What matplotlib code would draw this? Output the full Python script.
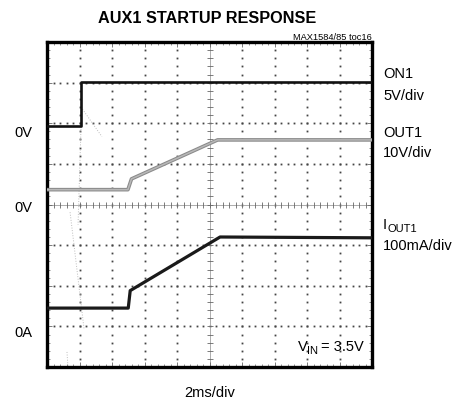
import numpy as np
import matplotlib
matplotlib.use('Agg')
from matplotlib import pyplot as plt

# scope settings: 2ms/div, 10 x 8 divisions
t_span_ms = 20.0
n_ydiv = 8

# ON1, 5V/div, ground reference at division 5.94
on1_t = [0.0, 2.07, 2.07, 20.0]
on1_v = [0.0, 0.0, 5.35, 5.35]
on1_zero, on1_scale = 5.94, 5.0

# OUT1, 10V/div, ground reference at the center line
out1_t = [0.0, 4.98, 5.2, 10.5, 20.0]
out1_v = [3.65, 3.65, 6.3, 15.9, 15.9]
out1_zero, out1_scale = 4.0, 10.0

# IOUT1, 100mA/div
iout1_t = [0.0, 5.0, 5.12, 10.65, 20.0]
iout1_ma = [51, 51, 94, 226, 224]
iout1_zero, iout1_scale = 0.94, 100.0

# faint persistence traces (ms, div)
ghost_t = [[2.09, 3.38], [2.09, 1.91], [1.42, 2.28], [1.23, 1.29]]
ghost_y = [[6.40, 5.67], [5.86, 3.50], [3.81, 0.94], [0.37, 0.0]]

plt.rcParams['font.family'] = ['Liberation Sans', 'DejaVu Sans']

W, H = 453, 402
fig = plt.figure(figsize=(W / 100, H / 100), dpi=100)
ax = fig.add_axes([47 / W, (H - 368) / H, 325 / W, 325 / H])
ax.set_xlim(0, t_span_ms)
ax.set_ylim(0, n_ydiv)


def px(x, y):
    return x / W, 1 - y / H


# dotted graticule
xs = np.arange(0, t_span_ms + 0.01, 0.4)
ys = np.arange(0, n_ydiv + 0.01, 0.2)
for j in range(1, n_ydiv):
    if j != 4:
        ax.plot(xs, np.full_like(xs, j), ls='none', marker='s', ms=1.3, mew=0,
                color='#444444', zorder=1)
for i in range(2, 20, 2):
    if i != 10:
        ax.plot(np.full_like(ys, i), ys, ls='none', marker='s', ms=1.3, mew=0,
                color='#444444', zorder=1)

# center axes with small ticks
ax.axhline(4, color='#a0a0a0', lw=0.6, zorder=1)
ax.axvline(10, color='#a0a0a0', lw=0.6, zorder=1)
ax.plot(xs, np.full_like(xs, 4), ls='none', marker='|', ms=4, mew=0.6, color='#666666', zorder=1)
ax.plot(np.full_like(ys, 10), ys, ls='none', marker='_', ms=4, mew=0.6, color='#666666', zorder=1)

for gt, gy in zip(ghost_t, ghost_y):
    ax.plot(gt, gy, color='#bdbdbd', lw=0.7, ls=':', zorder=1)

# traces
ax.plot(on1_t, on1_zero + np.array(on1_v) / on1_scale, color='#111111', lw=1.9, zorder=3)
out1_y = out1_zero + np.array(out1_v) / out1_scale
ax.plot(out1_t, out1_y, color='#8a8a8a', lw=2.6, zorder=3)
ax.plot(out1_t, out1_y, color='#b8b8b8', lw=1.1, zorder=3)
ax.plot(iout1_t, iout1_zero + np.array(iout1_ma) / iout1_scale, color='#1a1a1a', lw=2.3, zorder=3)

ax.set_xticks(np.arange(0, t_span_ms + 0.1, 2))
ax.set_xticks(xs, minor=True)
ax.set_yticks(np.arange(0, n_ydiv + 0.1, 1))
ax.set_yticks(ys, minor=True)
ax.tick_params(which='both', direction='in', top=True, right=True,
               labelbottom=False, labelleft=False, color='#666666')
ax.tick_params(which='major', length=3.5, width=0.6)
ax.tick_params(which='minor', length=2, width=0.5)
for sp in ax.spines.values():
    sp.set_linewidth(2.4)

# texts
fig.text(*px(207, 23.3), 'AUX1 STARTUP RESPONSE', ha='center', va='baseline',
         fontsize=11.7, fontweight='bold')
fig.text(*px(372, 40), 'MAX1584/85 toc16', ha='right', va='baseline', fontsize=6.7)

side = dict(ha='left', va='baseline', fontsize=10.5)
sub = dict(ha='left', va='baseline', fontsize=8)
fig.text(*px(383, 78), 'ON1', **side)
fig.text(*px(383, 100), '5V/div', **side)
fig.text(*px(383, 136.7), 'OUT1', **side)
fig.text(*px(383, 156.7), '10V/div', **side)
fig.text(*px(383, 229.5), 'I', **side)
fig.text(*px(387.5, 232), 'OUT1', **sub)
fig.text(*px(383, 250), '100mA/div', **side)

fig.text(*px(14, 137.3), '0V', **side)
fig.text(*px(14, 211.7), '0V', **side)
fig.text(*px(14, 336.7), '0A', **side)

fig.text(*px(209.5, 396.7), '2ms/div', ha='center', va='baseline', fontsize=10.5)
fig.text(*px(297.5, 351.5), 'V', **side)
fig.text(*px(307.2, 354.5), 'IN', **sub)
fig.text(*px(321, 351.5), '= 3.5V', **side)

fig.savefig('out.png', dpi=100)
